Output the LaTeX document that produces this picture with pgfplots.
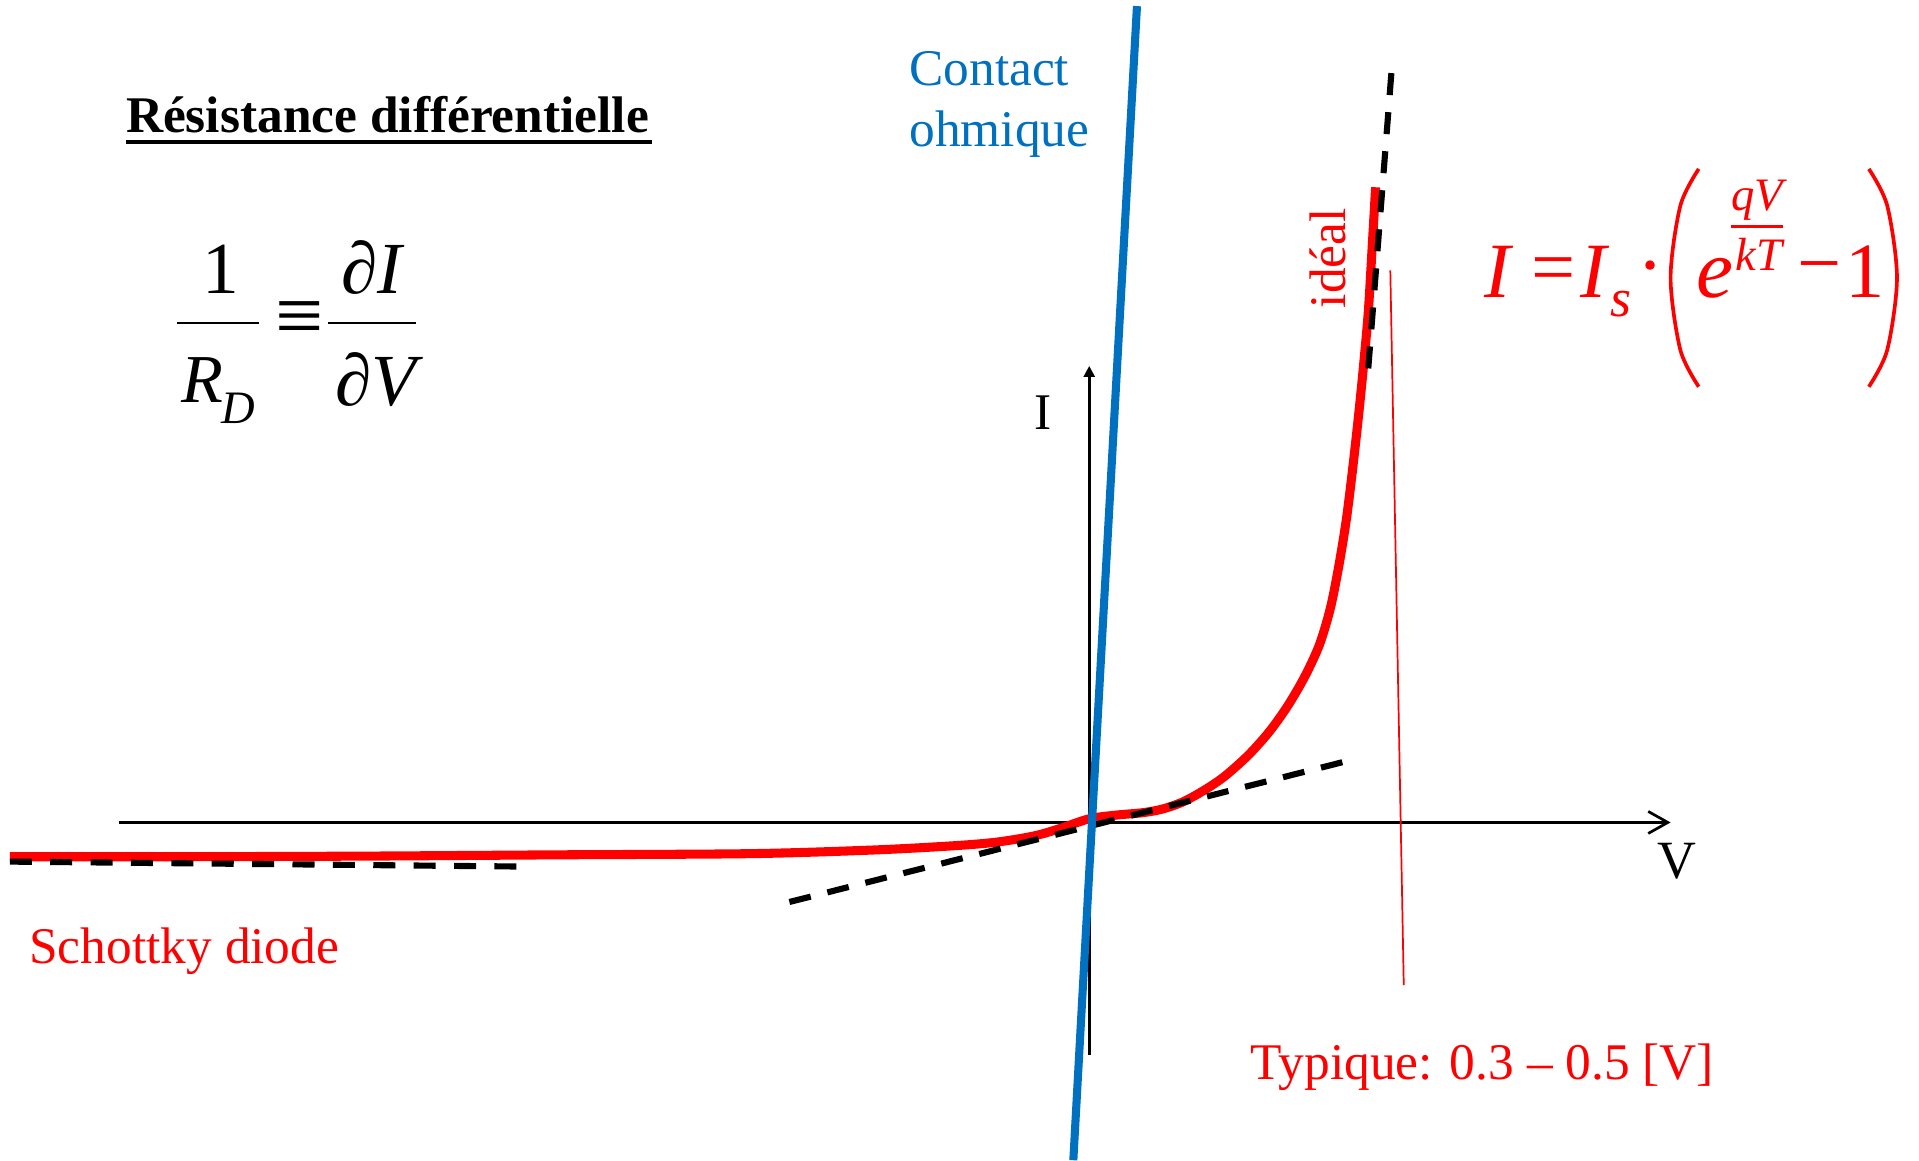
\documentclass[border=0pt]{standalone}
\usepackage{pgfplots}
\pgfplotsset{compat=1.18}
\usepackage{fontspec}
\setmainfont{Liberation Serif}
\usetikzlibrary{arrows.meta}
\definecolor{ored}{RGB}{255,0,0}
\definecolor{oblue}{RGB}{0,112,192}
\tikzset{t/.style={inner sep=0pt,outer sep=0pt}}
\begin{document}
\begin{tikzpicture}
\begin{axis}[width=784pt,height=474pt,scale only axis,
  xmin=0,xmax=1568,ymin=0,ymax=948,y dir=reverse,hide axis,clip=false]
\coordinate (SW) at (axis cs:0,948);
\coordinate (NE) at (axis cs:1568,0);
% axes
\addplot[black,line width=1.1pt,-{Straight Barb[length=8pt,width=9pt]}] coordinates {(97,672) (1365,672)};
\addplot[black,line width=1.1pt,-{Triangle[length=4.5pt,width=4.5pt]}] coordinates {(890,862) (890,299)};
% diode curve
\addplot[ored,line width=3.7pt,smooth] coordinates {
(8,700) (150,700) (300,699.5) (450,698.5) (613,697.5) (714,694.5) (780,691) (815,688)
(845,683) (866,677) (890,669) (912,666) (934,664) (950,661) (967,655) (985,645)
(1001,634) (1020,617) (1037,598) (1052,577) (1066,553) (1078,527) (1087,497)
(1094,462) (1100,425) (1105,385) (1110,340) (1114,300) (1118,255) (1121,205) (1124,153)};
% thin red line
\addplot[ored,line width=0.7pt] coordinates {(1136,221) (1147,805)};
% dashed tangents
\addplot[black,line width=2.5pt,dash pattern=on 9pt off 7.5pt] coordinates {(8,704) (422,708)};
\addplot[black,line width=2.5pt,dash pattern=on 9pt off 7pt] coordinates {(645,737) (1100,622)};
\addplot[black,line width=2.5pt,dash pattern=on 9pt off 7pt] coordinates {(1118,301) (1137,58)};
% ohmic contact
\addplot[oblue,line width=3.3pt] coordinates {(877,948) (929,5)};
% labels
\node[t,anchor=base,font=\fontsize{21}{25}\selectfont] at (axis cs:852,351) {I};
\node[t,anchor=base,font=\fontsize{22}{26}\selectfont] at (axis cs:1370,718) {V};
\node[t,anchor=base west,text=ored,font=\fontsize{21}{25}\selectfont] at (axis cs:24,787) {Schottky diode};
\node[t,anchor=base west,text=ored,font=\fontsize{21}{25}\selectfont] at (axis cs:1022,882) {Typique: 0.3 – 0.5 [V]};
\node[t,anchor=base west,text=oblue,font=\fontsize{21}{25}\selectfont] at (axis cs:743,70) {Contact};
\node[t,anchor=base west,text=oblue,font=\fontsize{21}{25}\selectfont] at (axis cs:743,120) {ohmique};
\node[t,anchor=base,rotate=90,text=ored,font=\fontsize{21}{25}\selectfont] at (axis cs:1099,211) {idéal};
% title
\node[t,anchor=base west,font=\fontsize{21}{25}\selectfont\bfseries] at (axis cs:103,108.5) {Résistance différentielle};
\addplot[black,line width=1.6pt] coordinates {(103,116) (533,116)};
% formula 1/R_D = dI/dV
\node[t,anchor=base,font=\fontsize{30}{36}\selectfont] at (axis cs:180.5,240) {1};
\addplot[black,line width=1.1pt] coordinates {(145,264) (212,264)};
\node[t,anchor=base west,font=\fontsize{28}{34}\selectfont\itshape] at (axis cs:148,329) {R};
\node[t,anchor=base west,font=\fontsize{19}{23}\selectfont\itshape] at (axis cs:181,346) {D};
\node[t,font=\fontsize{35}{40}\selectfont] at (axis cs:245,264) {≡};
\addplot[black,line width=1.1pt] coordinates {(268,264) (340,264)};
\node[t,anchor=base,font=\fontsize{30}{36}\selectfont\itshape] at (axis cs:304,240) {∂I};
\node[t,anchor=base,font=\fontsize{30}{36}\selectfont\itshape] at (axis cs:307,331) {∂V};
% formula I = Is (e^{qV/kT} - 1)
\node[t,anchor=base west,text=ored,font=\fontsize{32}{38}\selectfont\itshape] at (axis cs:1213,243) {I};
\node[t,text=ored,font=\fontsize{32}{38}\selectfont] at (axis cs:1269,225.5) {=};
\node[t,anchor=base west,text=ored,font=\fontsize{32}{38}\selectfont\itshape] at (axis cs:1291,243) {I};
\node[t,anchor=base west,text=ored,font=\fontsize{22}{26}\selectfont\itshape] at (axis cs:1316,259) {s};
\node[t,text=ored,font=\fontsize{32}{38}\selectfont] at (axis cs:1349,226) {·};
\addplot[ored,line width=1.5pt,smooth] coordinates {(1388,138) (1373,168) (1365,227) (1373,286) (1388,316)};
\node[t,anchor=base west,text=ored,font=\fontsize{34}{40}\selectfont\itshape] at (axis cs:1386,243) {e};
\node[t,anchor=base,text=ored,font=\fontsize{19}{23}\selectfont\itshape] at (axis cs:1436,172) {qV};
\addplot[ored,line width=0.9pt] coordinates {(1414,185) (1457,185)};
\node[t,anchor=base,text=ored,font=\fontsize{19}{23}\selectfont\itshape] at (axis cs:1437,221) {kT};
\node[t,text=ored,font=\fontsize{32}{38}\selectfont] at (axis cs:1487,225.5) {−};
\node[t,anchor=base west,text=ored,font=\fontsize{32}{38}\selectfont] at (axis cs:1508,243) {1};
\addplot[ored,line width=1.5pt,smooth] coordinates {(1527,138) (1542,168) (1550,227) (1542,286) (1527,316)};
\end{axis}
\pgfresetboundingbox
\path[use as bounding box] (SW) rectangle (NE);
\end{tikzpicture}
\end{document}
